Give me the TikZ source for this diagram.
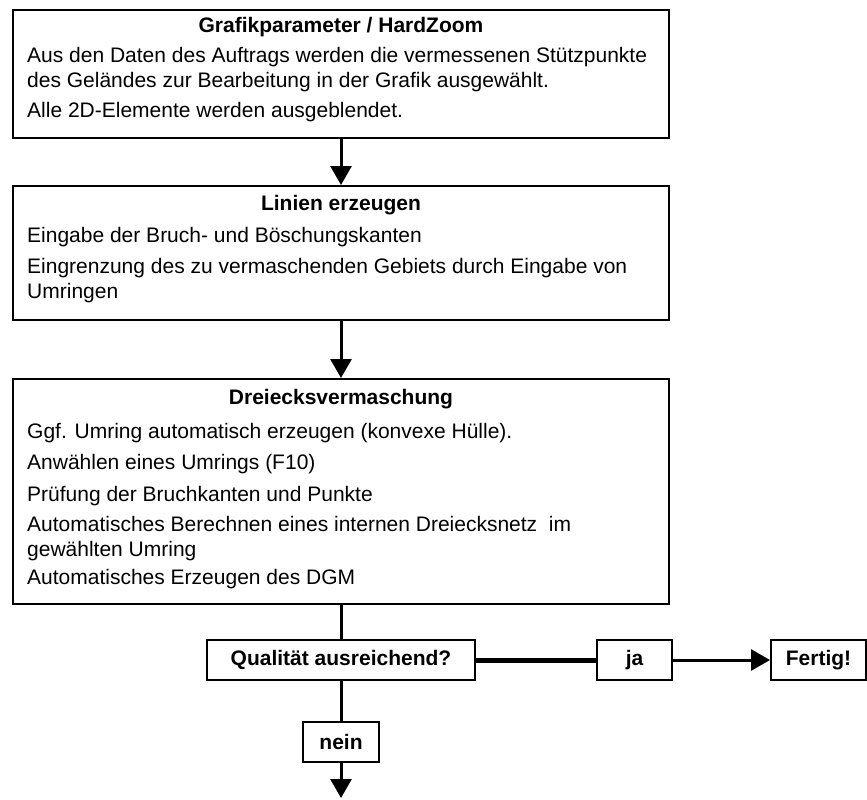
\documentclass[tikz,border=0pt]{standalone}
\usepackage{fontspec}
\setmainfont{Liberation Sans}
\usetikzlibrary{arrows.meta,positioning,calc}
\begin{document}
\begin{tikzpicture}[x=1pt, y=-1pt, font=\fontsize{21}{25}\selectfont,
  box/.style={draw, line width=2pt, minimum width=656pt, inner sep=0pt},
  lbl/.style={draw, line width=2pt, minimum height=40pt, inner sep=0pt, font=\fontsize{21}{25}\selectfont\bfseries},
  ttl/.style={anchor=base, inner sep=0pt, font=\fontsize{21}{25}\selectfont\bfseries},
  txt/.style={anchor=base west, inner sep=0pt},
  con/.style={line width=3pt},
  arr/.style={con, -{Triangle[length=19pt, width=21pt]}}]
  \useasboundingbox (0,0) rectangle (867,800);
  % steps
  \node[box, minimum height=128pt] (b1) at (341,74) {};
  \node[box, minimum height=134pt] (b2) at (341,253) {};
  \node[box, minimum height=225pt] (b3) at (341,491.5) {};
  \node[ttl] (t1) at ($(b1.north)+(0,24)$) {Grafikparameter / HardZoom};
  \node[ttl] (t2) at ($(b2.north)+(0,25)$) {Linien erzeugen};
  \node[ttl] (t3) at ($(b3.north)+(0,26)$) {Dreiecksvermaschung};
  \foreach \s/\y [count=\i] in {{Aus den Daten des Auftrags werden die vermessenen Stützpunkte}/54,
      {des Geländes zur Bearbeitung in der Grafik ausgewählt.}/79, {Alle 2D-Elemente werden ausgeblendet.}/108}
    \node[txt] (b1-\i) at ($(b1.north west)+(15,\y)$) {\s};
  \foreach \s/\y [count=\i] in {{Eingabe der Bruch- und Böschungskanten}/57,
      {Eingrenzung des zu vermaschenden Gebiets durch Eingabe von}/88, {Umringen}/113}
    \node[txt] (b2-\i) at ($(b2.north west)+(15,\y)$) {\s};
  \foreach \s/\y [count=\i] in {{Ggf. Umring automatisch erzeugen (konvexe Hülle).}/60, {Anwählen eines Umrings (F10)}/91,
      {Prüfung der Bruchkanten und Punkte}/123, {Automatisches Berechnen eines internen Dreiecksnetz\ \ im}/153,
      {gewählten Umring}/178, {Automatisches Erzeugen des DGM}/206}
    \node[txt] (b3-\i) at ($(b3.north west)+(15,\y)$) {\s};
  % decision
  \node[lbl, minimum width=268pt] (q) at (341,660) {Qualität ausreichend?};
  \node[lbl, minimum width=75pt] (ja) at (634.5,660) {ja};
  \node[lbl, minimum width=95pt] (fertig) at (818.5,660) {Fertig!};
  \node[lbl, minimum width=76pt] (nein) at (341,742) {nein};
  \coordinate (weiter) at (341,798);
  \foreach \u/\v in {b1/b2,b2/b3,ja/fertig,nein/weiter} \draw[arr] (\u) -- (\v);
  \draw[con] (b3) -- (q); \draw[con] (q) -- (nein);
  \draw[con, line width=5pt] (q) -- (ja);
\end{tikzpicture}
\end{document}
